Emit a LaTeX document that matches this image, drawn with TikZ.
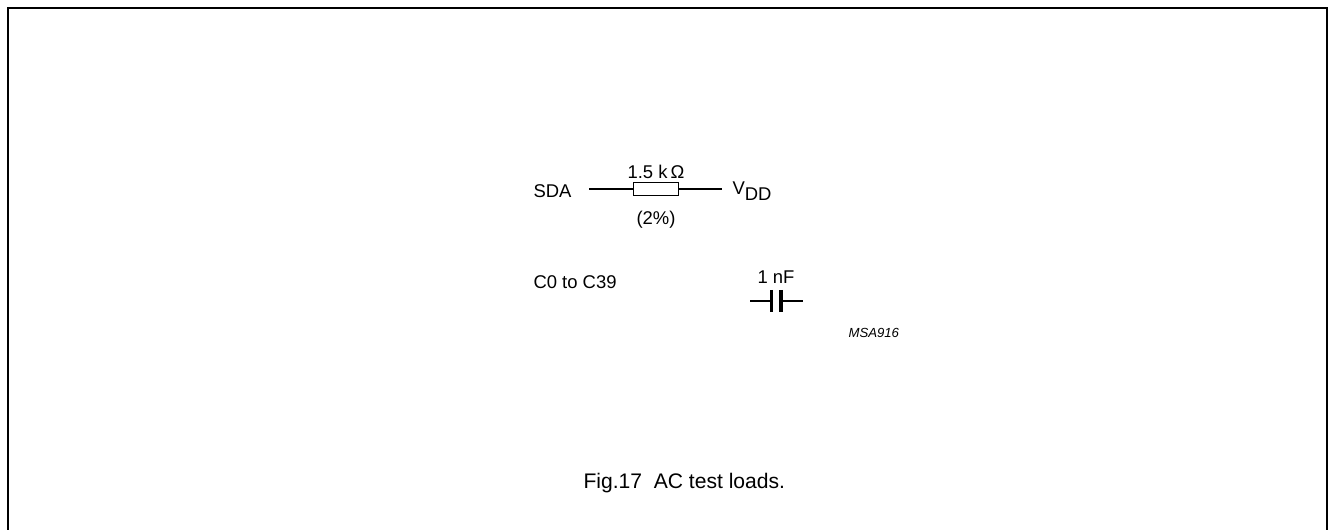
\documentclass[tikz,border=0pt]{standalone}
\usepackage{fontspec}
\setmainfont{Liberation Sans}
\begin{document}
\begin{tikzpicture}[x=0.02cm, y=-0.02cm, line width=0.6pt,
    lbl/.style={inner sep=0pt, font=\fontsize{10.5}{12}\selectfont},
    plate/.style={line width=1.9pt}]
  \useasboundingbox (0,0) rectangle (1329,530);
  \draw[line width=1.1pt] (8,545) -- (8,8) -- (1327,8) -- (1327,545);

  % resistor to VDD
  \node[lbl, anchor=west] (sda) at (533,191) {SDA};
  \coordinate (r1a) at (589,189);
  \node[draw, inner sep=0pt, minimum width=0.9cm, minimum height=0.26cm] (r1) at (656,189) {};
  \coordinate (r1b) at (722,189);
  \draw (r1a) -- (r1.west);
  \draw (r1.east) -- (r1b);
  \node[lbl, anchor=base west] (vdd) at (732,195) {V\raisebox{-0.55ex}{DD}};
  \node[lbl] (rval) at (656,172) {1.5 k\,Ω};
  \node[lbl] (rtol) at (656,220) {(2\%)};

  % capacitor
  \node[lbl, anchor=west] (cpins) at (533,282) {C0 to C39};
  \coordinate (c1a) at (750,301);
  \coordinate (c1p) at (771.5,301);
  \coordinate (c1q) at (781,301);
  \coordinate (c1b) at (803,301);
  \draw (c1a) -- (c1p);
  \draw (c1q) -- (c1b);
  \draw[plate] (c1p) ++(0,-11) -- ++(0,22);
  \draw[plate] (c1q) ++(0,-11) -- ++(0,22);
  \node[lbl] (cval) at (776,277) {1 nF};

  \node[lbl, anchor=west, font=\fontsize{7.5}{9}\selectfont\itshape] (code) at (848,333) {MSA916};
  \node[lbl, anchor=west, font=\fontsize{12}{14}\selectfont] (cap) at (583,483) {Fig.17\ \ AC test loads.};
\end{tikzpicture}
\end{document}
